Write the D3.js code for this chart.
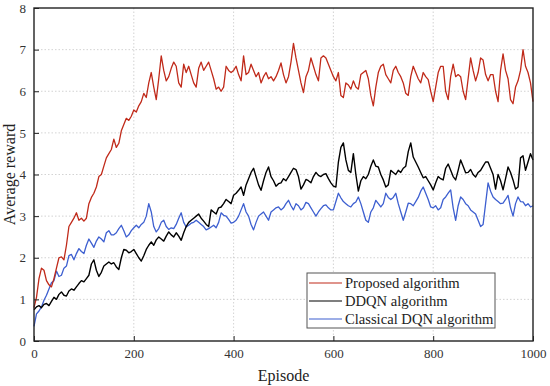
<!DOCTYPE html>
<html>
<head>
<meta charset="utf-8">
<script src="https://cdn.jsdelivr.net/npm/d3@7"></script>
<style>
  html, body { margin: 0; padding: 0; background: #fff; }
  svg { display: block; }
  text { font-family: "Liberation Serif", "Times New Roman", serif; }
</style>
</head>
<body>
<svg id="chart" width="550" height="386"></svg>
<script>
// ---- data ----
const episodes = d3.range(0, 1001, 5);
const seriesNames = ["Proposed algorithm", "DDQN algorithm", "Classical DQN algorithm"];
const xTicks = [0, 200, 400, 600, 800, 1000];
const yTicks = [0, 1, 2, 3, 4, 5, 6, 7, 8];

const proposed = [
0.8,1.05,1.5,1.75,1.7,1.45,1.35,1.3,1.5,1.75,2.0,2.02,1.95,2.3,2.75,2.85,2.95,3.08,2.9,2.95,
2.88,2.95,3.3,3.45,3.55,3.7,3.95,4.0,4.2,4.4,4.5,4.6,4.85,4.65,4.75,5.05,5.2,5.35,5.3,5.4,
5.55,5.5,5.65,5.75,5.95,5.85,6.2,6.45,6.1,5.8,6.3,6.85,6.5,6.25,6.35,6.55,6.7,6.6,6.2,6.1,
6.65,6.45,6.6,6.4,6.2,6.1,6.55,6.7,6.5,6.6,6.7,6.5,6.3,6.05,6.1,6.0,6.1,6.6,6.5,6.45,
6.5,6.6,6.4,6.25,6.85,6.4,6.45,6.65,6.5,6.35,6.45,6.2,6.35,6.45,6.3,6.35,6.25,6.35,6.5,6.68,
6.4,6.2,6.35,6.7,7.15,6.8,6.5,6.2,5.97,6.35,6.5,6.8,6.6,6.4,6.25,6.8,6.85,6.8,6.65,6.5,
6.35,6.25,6.45,5.9,5.85,6.2,6.15,6.05,6.25,6.1,6.05,6.4,6.45,6.5,6.3,5.9,5.65,6.1,6.45,6.6,
6.65,6.4,6.3,6.2,6.5,6.6,6.45,6.35,6.2,5.95,5.9,6.35,6.6,6.45,6.3,6.2,6.45,6.35,6.28,6.0,
5.75,6.1,6.45,6.6,6.6,6.0,5.8,6.35,6.65,6.35,6.4,6.35,6.0,5.8,6.3,6.8,6.5,6.25,6.45,6.8,
6.75,6.4,6.25,6.4,6.4,6.0,5.75,6.5,6.9,6.5,6.3,5.8,5.7,6.1,6.25,6.5,7.0,6.6,6.45,6.2,
5.75];

const ddqn = [
0.75,0.82,0.85,0.8,0.88,0.9,0.85,0.95,1.05,1.0,1.12,1.18,1.1,1.08,1.2,1.25,1.22,1.3,1.38,1.45,
1.42,1.5,1.58,1.85,1.95,1.7,1.55,1.65,1.8,1.85,1.9,1.85,1.88,1.78,1.72,2.0,2.2,2.18,2.12,2.15,
2.2,2.1,2.0,1.92,2.05,2.2,2.3,2.38,2.3,2.43,2.5,2.45,2.4,2.52,2.62,2.55,2.5,2.6,2.52,2.42,
2.6,2.75,2.85,2.9,2.95,3.0,3.05,2.95,2.88,2.8,2.75,3.15,3.1,3.05,3.2,3.22,3.3,3.4,3.35,3.3,
3.5,3.55,3.62,3.7,3.5,3.75,3.9,4.05,4.15,3.95,3.75,3.62,3.85,4.05,4.18,3.95,3.85,3.72,3.78,3.8,
3.9,3.85,3.95,4.05,4.15,4.12,3.95,3.65,3.75,3.88,3.85,3.8,3.95,4.05,3.98,3.95,4.0,4.02,3.9,3.8,
3.72,3.7,4.3,4.65,4.76,4.35,4.1,4.05,4.5,4.0,3.6,3.85,3.95,3.9,4.0,4.2,4.35,4.2,4.18,4.0,
3.87,3.7,3.75,4.1,4.05,4.0,4.1,4.05,4.15,4.2,4.55,4.76,4.42,4.3,4.18,4.05,3.92,3.95,3.85,3.75,
3.63,3.8,3.95,3.9,3.87,4.15,4.25,4.1,3.95,3.87,4.1,4.35,4.2,4.04,4.05,4.12,4.0,3.94,4.05,4.1,
4.2,4.3,4.3,4.15,4.0,3.65,4.0,3.85,3.63,3.9,4.18,4.05,3.87,3.65,3.7,4.4,4.45,4.1,4.3,4.5,
4.35];

const classical = [
0.35,0.65,0.72,0.82,0.98,1.1,1.25,1.4,1.45,1.68,1.55,1.58,1.75,1.8,2.05,2.08,1.95,2.1,2.22,2.15,
2.1,2.3,2.45,2.35,2.25,2.4,2.5,2.45,2.38,2.6,2.65,2.55,2.55,2.6,2.7,2.78,2.65,2.5,2.55,2.65,
2.72,2.78,2.72,2.8,2.85,3.0,3.3,3.1,2.75,2.62,2.7,2.85,2.9,2.75,2.68,2.72,2.7,2.8,2.95,3.08,
2.85,2.74,2.78,2.83,2.85,2.9,2.85,2.8,2.75,2.67,2.7,2.74,2.78,2.72,2.85,3.08,3.02,3.0,2.92,2.83,
2.85,2.9,3.0,3.15,3.3,3.1,3.0,2.8,2.67,2.85,3.0,3.05,3.1,3.0,2.9,3.1,3.15,3.2,3.22,3.15,
3.2,3.3,3.38,3.25,3.15,3.3,3.25,3.15,3.2,3.33,3.3,3.2,3.1,3.0,3.1,3.18,3.25,3.27,3.2,3.15,
3.15,3.35,3.55,3.44,3.35,3.3,3.25,3.22,3.3,3.34,3.46,3.3,3.1,2.9,2.85,3.1,3.2,3.38,3.3,3.22,
3.3,3.55,3.45,3.4,3.45,3.55,3.3,3.1,2.9,3.1,3.31,3.3,3.25,3.35,3.45,3.6,3.7,3.55,3.4,3.22,
3.2,3.25,3.15,3.2,3.4,3.46,3.55,3.63,3.2,2.9,3.25,3.46,3.4,3.3,3.25,3.15,3.1,3.05,2.9,2.75,
2.8,3.3,3.8,3.6,3.46,3.4,3.35,3.3,3.31,3.4,3.5,3.2,3.0,3.3,3.46,3.35,3.34,3.25,3.3,3.22,
3.25];

const seriesValues = [proposed, ddqn, classical];
const seriesColors = ["#c02a1a", "#000000", "#3d5fd0"];

// ---- layout ----
const W = 550, H = 386;
const margin = { left: 34, right: 17, top: 8, bottom: 45 };
const iw = W - margin.left - margin.right;
const ih = H - margin.top - margin.bottom;

const svg = d3.select("#chart");
const g = svg.append("g").attr("transform", `translate(${margin.left},${margin.top})`);

const x = d3.scaleLinear().domain([0, 1000]).range([0, iw]);
const y = d3.scaleLinear().domain([0, 8]).range([ih, 0]);

// grid
g.append("g").selectAll("line.vg").data(xTicks.slice(1, -1)).join("line")
  .attr("x1", d => x(d)).attr("x2", d => x(d)).attr("y1", 0).attr("y2", ih)
  .attr("stroke", "#c8c8c8").attr("stroke-width", 0.8).attr("stroke-dasharray", "1.5,2");
g.append("g").selectAll("line.hg").data(yTicks.slice(1, -1)).join("line")
  .attr("x1", 0).attr("x2", iw).attr("y1", d => y(d)).attr("y2", d => y(d))
  .attr("stroke", "#c8c8c8").attr("stroke-width", 0.8).attr("stroke-dasharray", "1.5,2");

// lines
const line = d3.line().x((d, i) => x(episodes[i])).y(d => y(d));
const drawOrder = [2, 1, 0];
drawOrder.forEach(k => {
  g.append("path").datum(seriesValues[k])
    .attr("fill", "none")
    .attr("stroke", seriesColors[k])
    .attr("stroke-width", k === 1 ? 1.4 : 1.3)
    .attr("stroke-linejoin", "round")
    .attr("d", line);
});

// axes
const xAxis = d3.axisBottom(x).tickValues(xTicks).tickSize(-5).tickPadding(8).tickFormat(d3.format("d"));
const yAxis = d3.axisLeft(y).tickValues(yTicks).tickSize(-5).tickPadding(8).tickFormat(d3.format("d"));
const gx = g.append("g").attr("transform", `translate(0,${ih})`).call(xAxis);
const gy = g.append("g").call(yAxis);
[gx, gy].forEach(a => {
  a.select(".domain").remove();
  a.selectAll(".tick line").attr("stroke", "#222").attr("stroke-width", 1);
  a.selectAll(".tick text").attr("fill", "#333").style("font-size", "13px")
    .style("font-family", "'Liberation Serif', serif");
});

// frame
g.append("rect").attr("x", 0).attr("y", 0).attr("width", iw).attr("height", ih)
  .attr("fill", "none").attr("stroke", "#222").attr("stroke-width", 1.4);

// axis titles
svg.append("text").attr("x", margin.left + iw / 2).attr("y", 381)
  .attr("text-anchor", "middle").style("font-size", "16px").attr("fill", "#222").text("Episode");
svg.append("text").attr("transform", `translate(15,${margin.top + ih / 2}) rotate(-90)`)
  .attr("text-anchor", "middle").style("font-size", "16px").attr("fill", "#222").text("Average reward");

// legend
const lg = svg.append("g");
lg.append("rect").attr("x", 307).attr("y", 273).attr("width", 188).attr("height", 55)
  .attr("fill", "#fff").attr("stroke", "#555").attr("stroke-width", 1);
seriesNames.forEach((name, i) => {
  const cy = 283 + i * 18;
  lg.append("line").attr("x1", 309).attr("x2", 342).attr("y1", cy).attr("y2", cy)
    .attr("stroke", seriesColors[i]).attr("stroke-width", 1.2);
  lg.append("text").attr("x", 345).attr("y", cy + 5).style("font-size", "14.6px")
    .attr("fill", "#222").text(name);
});
</script>
</body>
</html>
